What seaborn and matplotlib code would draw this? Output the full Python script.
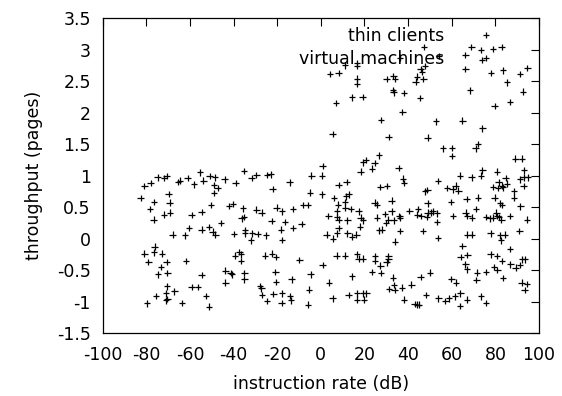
import numpy as np
import pandas as pd
import matplotlib
matplotlib.use("Agg")
import matplotlib.pyplot as plt
from matplotlib.lines import Line2D
from matplotlib.ticker import FormatStrFormatter
import seaborn as sns

# series names, as in the key
series_names = ["thin clients", "virtual machines"]

# thin clients
thin_x = [-80.9, -78.0, -74.8, -71.8, -70.7, -65.4, -64.6, -61.1, -58.1, -55.3, -53.9, -51.0, -48.6, -48.9,
          -47.3, -44.1, -39.1, -35.3, -31.7, -29.5, -82.6, -69.8, -48.9, -76.5, -69.3, -50.4, -42.0, -40.2,
          -35.7, -78.2, -29.6, -27.2, -71.8, -69.2, -59.2, -54.6, -36.3, -35.3, -76.7, -45.8, -60.5, -54.6,
          -51.3, -49.6, -48.4, -67.9, -62.2, -39.7, -34.7, -34.8, -31.5, -29.0, -32.1,
          -24.6, -23.0, -14.3, -22.1, -4.4, -5.0, -20.3, -17.7, -12.7, -8.1, -5.8, -22.6, -16.5, -18.3,
          -12.7, -8.8, -25.2, -17.7,
          -76.2, -80.9, -76.4, -72.7, -79.1, -70.7, -61.8, -73.3, -74.7, -70.3, -54.6, -70.5, -67.1, -71.0,
          -75.6, -70.4, -71.0, -79.6, -63.6, -59.2, -56.2, -52.7, -51.3, -43.8, -43.8, -41.4, -40.8, -39.4,
          -37.4, -36.6, -36.6, -35.1, -35.1, -28.0, -27.3, -26.9,
          -25.5, -22.3, -20.5, -9.8, -20.9, -4.7, -20.5, -13.4, -5.5, -21.8, -17.9, -14.2, -24.7, -18.0,
          -13.6, -5.8]
thin_y = [0.83, 0.88, 0.97, 0.96, 0.99, 0.90, 0.92, 0.96, 0.86, 1.05, 0.92, 0.99, 0.97, 0.85,
          0.80, 0.94, 0.88, 1.07, 0.96, 1.01, 0.64, 0.71, 0.72, 0.58, 0.57, 0.53, 0.52, 0.55,
          0.48, 0.47, 0.46, 0.41, 0.38, 0.41, 0.37, 0.42, 0.32, 0.34, 0.30, 0.25, 0.17, 0.14,
          0.18, 0.11, 0.06, 0.06, 0.05, 0.07, 0.13, 0.08, 0.08, 0.07, -0.03,
          1.01, 1.02, 0.89, 0.79, 1.00, 0.73, 0.49, 0.43, 0.47, 0.53, 0.53, 0.28, 0.26, 0.14,
          0.17, 0.23, 0.05, -0.02,
          -0.13, -0.24, -0.22, -0.24, -0.37, -0.37, -0.36, -0.45, -0.57, -0.55, -0.58, -0.76, -0.84, -0.87,
          -0.91, -0.96, -0.98, -1.03, -1.02, -0.77, -0.77, -0.91, -1.08, -0.51, -0.70, -0.55, -0.57, -0.27,
          -0.21, -0.25, -0.36, -0.55, -0.65, -0.75, -0.79, -0.90,
          -0.27, -0.24, -0.29, -0.34, -0.53, -0.57, -0.69, -0.65, -0.81, -0.88, -0.87, -0.91, -0.99, -1.02,
          -0.98, -1.05]

# virtual machines
vm_x = [0.8, 0.5, 0.5, 8.1, 11.8, 6.0, 11.5, 12.7, 7.9, 11.1, 13.9, 11.3, 7.5, 3.4, 7.5, 8.1, 12.1, 17.3,
        18.2, 19.4, 18.0, 8.2, 7.5, 2.6, 5.6, 12.1, 14.2, 16.3, 19.4, 20.6, 24.7, 18.2, 23.5, 27.3, 30.4,
        24.6, 25.8, 32.5, 29.3, 32.5, 25.8, 31.0, 29.8, 33.4, 26.6, 27.9, 33.9,
        35.7, 37.6, 38.2, 47.8, 48.8, 53.6, 57.9, 60.4, 61.8, 63.0, 63.8, 69.1, 73.4, 74.0, 80.7, 84.7,
        81.5, 83.0, 85.3, 79.0, 81.2, 83.6, 88.5, 88.5, 93.0, 91.3, 93.0, 93.1, 94.8, 89.2, 92.2, 66.8,
        72.0, 59.6, 48.9, 79.6, 82.1, 83.0, 71.1, 91.4, 44.5, 40.6, 48.9, 50.3, 51.2, 53.3, 44.3, 46.1,
        48.6, 36.0, 36.3, 60.6, 66.4, 67.2, 69.2, 75.7, 77.4, 79.0, 80.4, 80.9, 81.7, 82.8, 86.7, 94.4,
        53.3, 36.3, 46.8, 53.7, 67.2, 69.3, 77.8, 82.1, 84.3, 91.0, 82.6,
        0.8, 7.2, 11.0, 16.6, 17.3, 19.4, 24.9, 24.9, 31.0, 31.0, 30.1, 27.3, 23.4, 27.6, 14.2, 3.8, 33.1,
        31.3, 33.6, 33.8, 5.4, 12.7, 16.6, 19.4, 20.9, 16.6, 19.7,
        64.9, 64.1, 67.2, 66.3, 67.0, 71.5, 71.3, 75.6, 77.8, 80.7, 79.3, 80.9, 83.0, 86.7, 86.9, 89.3,
        91.3, 92.1, 93.5, 83.6, 92.0, 94.6, 93.4, 45.7, 50.0, 41.5, 37.2, 38.2, 48.3, 53.9, 57.1, 58.8,
        61.4, 64.0, 67.0, 63.8, 43.0, 44.2, 45.1, 73.5, 75.6, 59.8, 61.9,
        4.1, 8.2, 11.0, 16.6, 16.6, 47.2, 47.8, 45.7, 46.4, 54.2, 66.3, 69.0, 73.3, 73.9, 78.9, 82.9,
        66.3, 77.9, 83.5, 91.2, 94.7, 16.6, 16.6, 30.2, 33.3, 33.9, 44.1, 43.4, 47.0, 33.1, 33.4, 38.2,
        68.3, 85.3, 92.7, 7.0, 14.2, 19.1, 45.5, 37.4, 79.7, 86.7, 27.5, 52.7, 64.9, 5.4, 31.1, 48.9,
        74.0, 56.0, 60.1, 60.1, 71.0, 72.1, 26.7, 36.2]
vm_y = [1.15, 1.00, 0.70, 0.85, 0.90, 0.64, 0.67, 0.70, 0.54, 0.58, 0.47, 0.49, 0.43, 0.36, 0.34, 0.30, 0.29, 0.43,
        0.33, 0.29, 0.19, 0.17, 0.08, 0.06, 0.00, 0.08, 0.03, 0.06, 1.21, 1.25, 1.20, 1.06, 1.11, 0.82, 0.83,
        0.57, 0.54, 0.60, 0.39, 0.43, 0.33, 0.30, 0.25, 0.29, 0.13, 0.14, -0.05,
        1.12, 0.95, 0.88, 0.75, 0.77, 0.91, 0.80, 0.78, 0.84, 0.76, 1.00, 0.97, 1.00, 1.08, 1.06, 0.96,
        0.89, 0.84, 0.87, 0.82, 0.80, 0.81, 0.75, 0.65, 0.83, 0.94, 0.97, 1.08, 0.97, 1.27, 1.27, 0.63,
        0.65, 0.58, 0.56, 0.65, 0.56, 0.53, 0.47, 0.51, 0.47, 0.44, 0.41, 0.41, 0.43, 0.40, 0.38, 0.36,
        0.34, 0.36, 0.33, 0.36, 0.41, 0.36, 0.33, 0.34, 0.32, 0.33, 0.41, 0.36, 0.34, 0.30, 0.36, 0.30,
        0.26, 0.12, 0.12, 0.01, 0.06, 0.06, 0.08, 0.05, 0.06, 0.12, -0.03,
        -0.42, -0.27, -0.27, -0.25, -0.32, -0.32, -0.28, -0.35, -0.28, -0.33, -0.38, -0.43, -0.53, -0.55, -0.60, -0.70, -0.62,
        -0.80, -0.74, -0.82, -0.95, -0.90, -0.87, -0.87, -0.87, -0.97, -0.97,
        -0.12, -0.29, -0.26, -0.41, -0.49, -0.54, -0.66, -0.53, -0.25, -0.28, -0.45, -0.50, -0.36, -0.17, -0.41, -0.46,
        -0.42, -0.33, -0.33, -0.63, -0.70, -0.72, -0.82, -0.61, -0.54, -0.73, -0.78, -0.97, -0.90, -0.95, -0.99, -0.95,
        -0.92, -0.87, -0.97, -1.07, -1.04, -1.05, -1.05, -0.92, -1.02, -0.64, -0.70,
        2.61, 2.63, 2.75, 2.78, 2.74, 3.04, 2.74, 2.69, 2.65, 2.90, 2.91, 3.04, 2.99, 2.83, 3.01, 3.04,
        2.69, 2.63, 2.67, 2.61, 2.71, 2.54, 2.46, 2.53, 2.58, 2.53, 2.57, 2.49, 2.53, 2.36, 2.32, 2.31,
        2.35, 2.48, 2.33, 2.15, 2.24, 2.25, 2.23, 2.01, 2.10, 2.17, 1.88, 1.86, 1.87, 1.66, 1.61, 1.60,
        1.75, 1.43, 1.44, 1.31, 1.43, 1.50, 1.32, 2.87]

x_ticks = list(range(-100, 101, 20))
y_ticks = [-1.5, -1, -0.5, 0, 0.5, 1, 1.5, 2, 2.5, 3, 3.5]

sns.set_theme(style="white")
plt.rcParams['font.family'] = ['DejaVu Sans']
plt.rcParams['text.color'] = 'black'

df = pd.concat([
    pd.DataFrame({'x': thin_x, 'y': thin_y, 'series': series_names[0]}),
    pd.DataFrame({'x': vm_x, 'y': vm_y, 'series': series_names[1]}),
])

fig = plt.figure(figsize=(5.62, 3.96), dpi=100)
ax = fig.add_axes([0.1827, 0.159, 0.7764, 0.7955])
sns.scatterplot(data=df, x='x', y='y', hue='series', palette=['black', 'black'],
                marker='+', s=22, linewidth=0.9, legend=False, ax=ax)

ax.set_xlim(-100, 100)
ax.set_ylim(-1.5, 3.5)
ax.set_xticks(x_ticks)
ax.set_yticks(y_ticks)
ax.xaxis.set_major_formatter(FormatStrFormatter('%g'))
ax.yaxis.set_major_formatter(FormatStrFormatter('%g'))
ax.tick_params(direction='in', length=6, width=0.8, top=True, right=True,
               labelsize=12.5, colors='black')
ax.tick_params(axis='x', pad=9.5)
ax.tick_params(axis='y', pad=8.5)
for sp in ax.spines.values():
    sp.set_color('black')
    sp.set_linewidth(0.9)
ax.set_xlabel('instruction rate (dB)', fontsize=12.5, color='black', labelpad=8)
ax.set_ylabel('throughput (pages)', fontsize=12.5, color='black', labelpad=10)

# key: text right-aligned, sample to the right (gnuplot style)
handles = [Line2D([], [], linestyle='none', marker='+', color='black',
                  markersize=4.7, markeredgewidth=0.9) for _ in series_names]
ax.legend(handles, series_names, loc='upper right', bbox_to_anchor=(0.9335, 0.972),
          frameon=False, markerfirst=False, handlelength=2.8, handletextpad=1.0,
          labelspacing=0.3, borderpad=0, borderaxespad=0, fontsize=12.5, labelcolor='black')

fig.savefig('out.png', dpi=100)
